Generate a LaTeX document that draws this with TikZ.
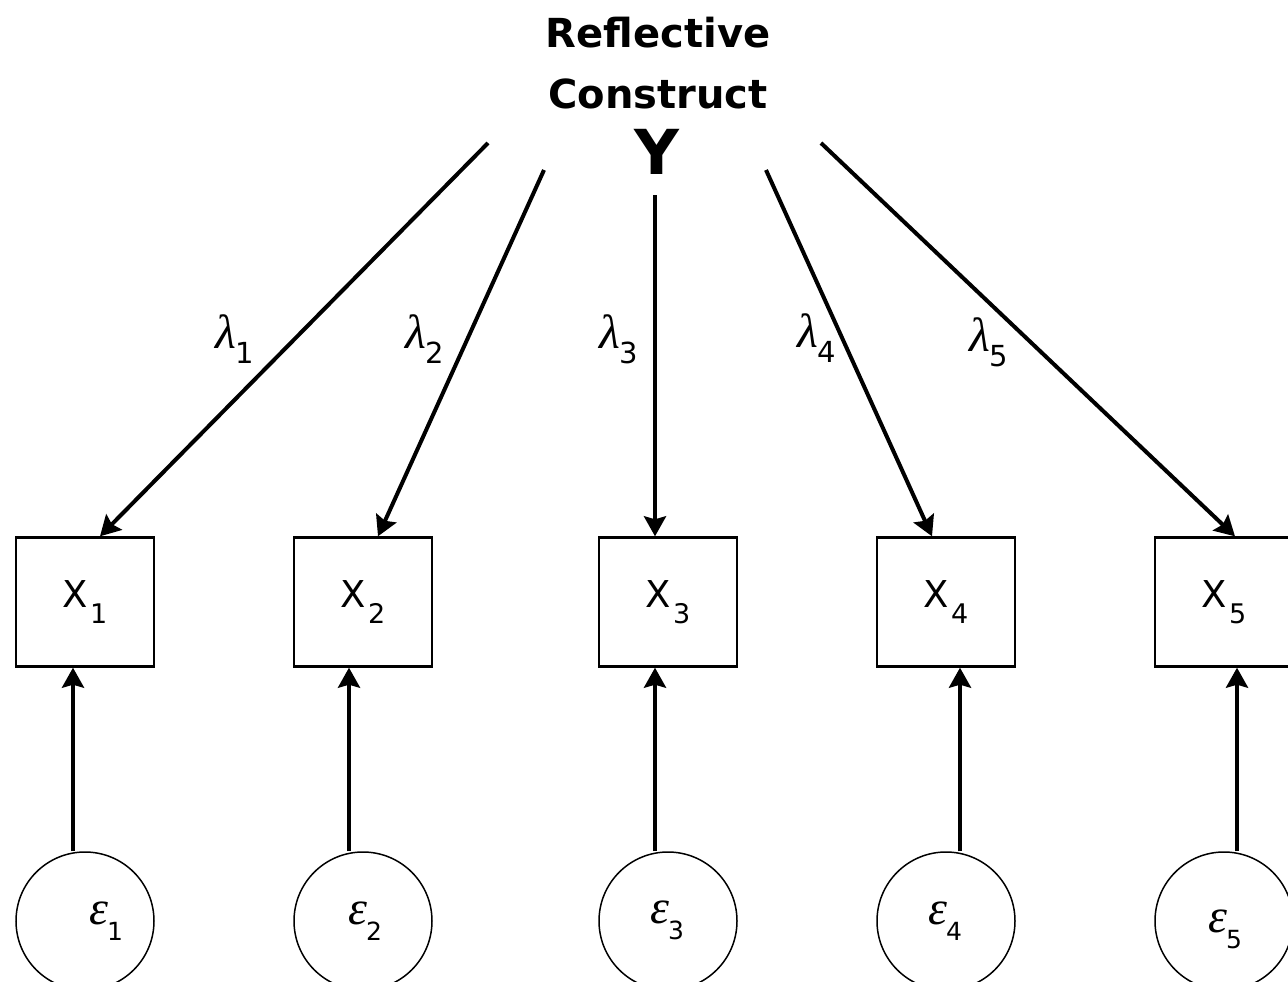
\documentclass[tikz,border=0pt]{standalone}
\usepackage{fontspec}
\setmainfont{DejaVu Sans}
\newfontfamily\greekfont{Liberation Serif}
\usetikzlibrary{arrows.meta,calc}

% labels with lowered sans subscripts
\newcommand{\loadlab}[1]{{\greekfont\itshape\fontsize{48}{48}\selectfont λ}\kern-1pt\raisebox{-15pt}{\fontsize{29}{29}\selectfont #1}}
\newcommand{\errlab}[1]{{\greekfont\itshape\fontsize{48}{48}\selectfont ε}\kern-1pt\raisebox{-16pt}{\fontsize{25}{25}\selectfont #1}}
\newcommand{\indlab}[1]{{\fontsize{37}{37}\selectfont X}\kern2pt\raisebox{-16pt}{\fontsize{27}{27}\selectfont #1}}

\begin{document}
\begin{tikzpicture}[
    x=1pt,
    y=-1pt,
    indicator/.style={
        draw,
        line width=2.4pt,
        minimum width=138pt,
        minimum height=129pt,
        inner sep=0pt
    },
    error term/.style={
        draw,
        circle,
        line width=1.5pt,
        minimum size=138pt,
        inner sep=0pt
    },
    path arrow/.style={
        line width=4pt,
        -{Stealth[length=20pt,width=22pt,inset=3pt]}
    },
    title/.style={
        font=\bfseries\fontsize{40}{61}\selectfont,
        align=center,
        inner sep=0pt
    },
    construct/.style={
        font=\bfseries\fontsize{62}{62}\selectfont,
        inner sep=0pt
    }
]

\useasboundingbox (0,0) rectangle (1288,982);
\clip (0,0) rectangle (1288,982);

%------------------------------------------------
% Construct
%------------------------------------------------
\node[title] (title) at (658,63) {Reflective\\Construct};
\node[construct] (Y) at (657,152) {Y};

\coordinate (s1) at (488,143);
\coordinate (s2) at (544,170);
\coordinate (s3) at (655,195);
\coordinate (s4) at (766,170);
\coordinate (s5) at (821,143);

%------------------------------------------------
% Indicators and error terms
%------------------------------------------------
\foreach \i/\cx in {1/85,2/363,3/668,4/946,5/1224}{
    \node[indicator] (x\i) at (\cx,602) {\indlab{\i}};
    \node[error term] (e\i) at (\cx,921) {};
}

\node (d1) at (106,921) {\errlab{1}};
\node (d2) at (365,921) {\errlab{2}};
\node (d3) at (667,920) {\errlab{3}};
\node (d4) at (945,921) {\errlab{4}};
\node (d5) at (1225,929) {\errlab{5}};

%------------------------------------------------
% Loadings
%------------------------------------------------
\foreach \i/\top/\bot in {1/15/-12,2/15/-14,3/-13/-13,4/-14/14,5/11/13}{
    \draw[path arrow] (s\i) -- ($(x\i.north)+(\top,0)$);
    \draw[path arrow] ($(e\i.north)+(\bot,0)$) -- ($(x\i.south)+(\bot,0)$);
}

\node (l1) at (235,339) {\loadlab{1}};
\node (l2) at (425,339) {\loadlab{2}};
\node (l3) at (619,339) {\loadlab{3}};
\node (l4) at (817,338) {\loadlab{4}};
\node (l5) at (989,342) {\loadlab{5}};

\end{tikzpicture}
\end{document}
